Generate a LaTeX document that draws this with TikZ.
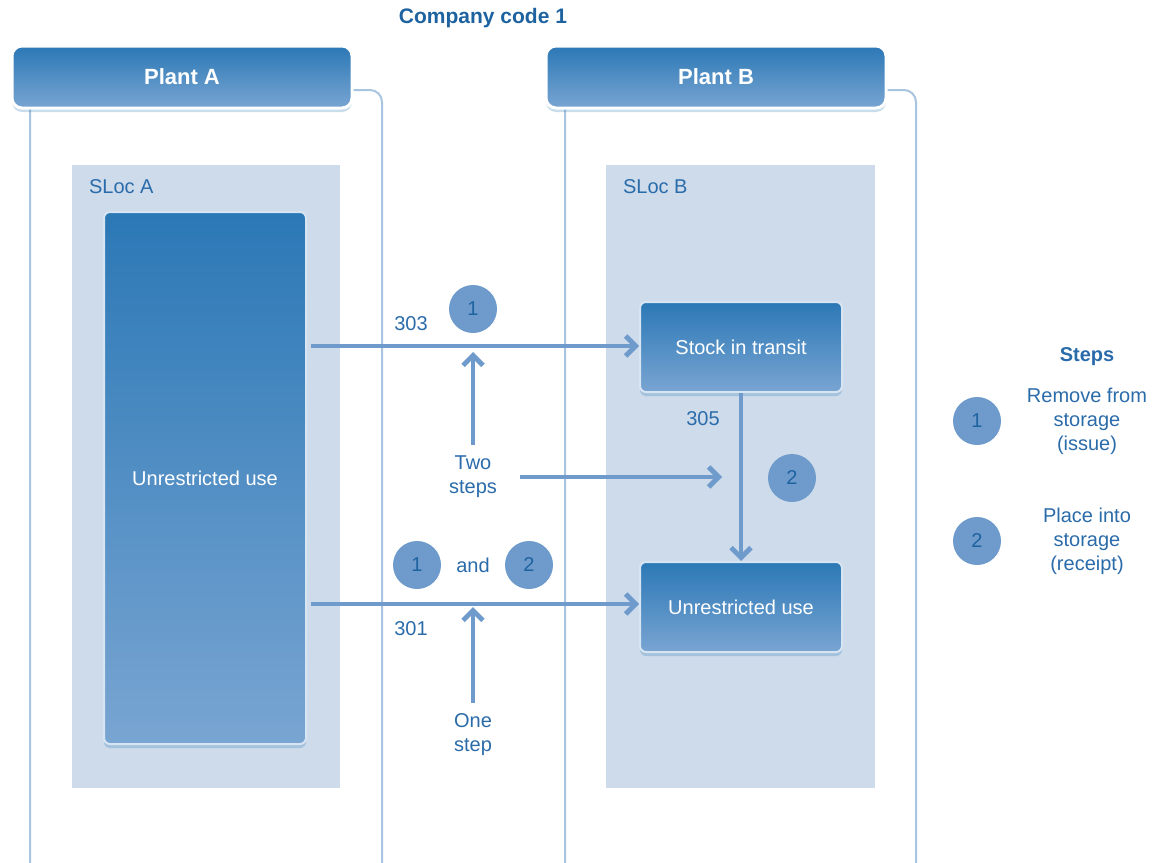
\documentclass[tikz,border=0pt]{standalone}
\usepackage{fontspec}
\setmainfont{Liberation Sans}
\usetikzlibrary{arrows.meta,positioning,shadows}
\definecolor{boxtop}{HTML}{2B78B6}
\definecolor{boxbot}{HTML}{79A5D2}
\definecolor{panelline}{HTML}{A9C4E0}
\definecolor{slocfill}{HTML}{CEDBEB}
\definecolor{arrowblue}{HTML}{6E9BCB}
\definecolor{labelblue}{HTML}{2A6BAA}
\definecolor{darkblue}{HTML}{1E63A0}

\begin{document}
\begin{tikzpicture}[
  x=0.5pt, y=-0.5pt,
  font=\fontsize{10}{12}\selectfont,
  panel/.style = {draw=panelline,fill=white,line width=1pt,rounded corners=6pt},
  sloc/.style = {fill=slocfill,draw=none},
  bluebox/.style = {rectangle,rounded corners=3pt,top color=boxtop,bottom color=boxbot,
    draw=white!70!boxbot,line width=1pt,text=white,align=center,
    drop shadow={opacity=.25,shadow xshift=0pt,shadow yshift=-2pt,fill=boxtop}},
  header/.style = {bluebox,rounded corners=5pt,draw=white,line width=1.5pt,
    minimum width=170pt,minimum height=31pt,font=\fontsize{11}{13}\selectfont\bfseries},
  stepdot/.style = {circle,fill=arrowblue,minimum size=24pt,inner sep=0pt,text=darkblue},
  flow/.style = {draw=arrowblue,line width=2.4pt,-{Straight Barb[length=5pt,width=10pt,line width=2.4pt]}},
  code/.style = {text=labelblue},
  note/.style = {text=labelblue,align=center,font=\fontsize{10}{12}\selectfont},
  ]
  \useasboundingbox (0,0) rectangle (1156,862);
  \begin{scope}
    \clip (0,0) rectangle (1156,862);
    % plants
    \draw[panel] (30,90) rectangle (382,900);
    \draw[panel] (565,90) rectangle (916,900);
    \fill[sloc] (72,165) rectangle (340,788);
    \fill[sloc] (606,165) rectangle (875,788);
  \end{scope}

  \node[font=\fontsize{10.5}{12}\selectfont\bfseries,text=darkblue] (company) at (483,18) {Company code 1};
  \node[header] (plantA) at (182,77) {Plant A};
  \node[header] (plantB) at (716,77) {Plant B};

  \node[code,anchor=west] (slocA) at (82,187) {SLoc A};
  \node[code,anchor=west] (slocB) at (616,187) {SLoc B};

  % storage types
  \node[bluebox,minimum width=101pt,minimum height=266pt] (unresA) at (205,478) {Unrestricted use};
  \node[bluebox,minimum width=101pt,minimum height=45pt] (transit) at (741,347) {Stock in transit};
  \node[bluebox,minimum width=101pt,minimum height=45pt] (unresB) at (741,607) {Unrestricted use};

  % movements
  \coordinate (outA1) at (311,346);
  \coordinate (outA2) at (311,604);
  \draw[flow] (outA1) -- (transit.west |- outA1);
  \draw[flow] (outA2) -- (unresB.west |- outA2);
  \draw[flow] (transit.south) -- (unresB.north);
  \node[code] (c303) at (411,324) {303};
  \node[code] (c301) at (411,629) {301};
  \node[code] (c305) at (703,419) {305};

  \node[stepdot] (s1) at (473,309) {1};
  \node[stepdot] (s2) at (792,478) {2};
  \node[stepdot] (t1) at (417,565) {1};
  \node[note] (and) at (473,565) {and};
  \node[stepdot] (t2) at (529,565) {2};

  \node[note] (two) at (473,477) {Two\\steps};
  \node[note] (one) at (473,735) {One\\step};
  \coordinate (twoR) at (520,477);
  \coordinate (twoE) at (722,477);
  \draw[flow] (two.north) ++(0,-4) -- (473,352);
  \draw[flow] (twoR) -- (twoE);
  \draw[flow] (one.north) ++(0,-4) -- (473,607);

  % legend
  \node[note,font=\fontsize{10}{12}\selectfont\bfseries] (steps) at (1087,357) {Steps};
  \node[stepdot] (l1) at (977,421) {1};
  \node[note] (l1txt) at (1087,421) {Remove from\\storage\\(issue)};
  \node[stepdot] (l2) at (977,541) {2};
  \node[note] (l2txt) at (1087,541) {Place into\\storage\\(receipt)};
\end{tikzpicture}
\end{document}
